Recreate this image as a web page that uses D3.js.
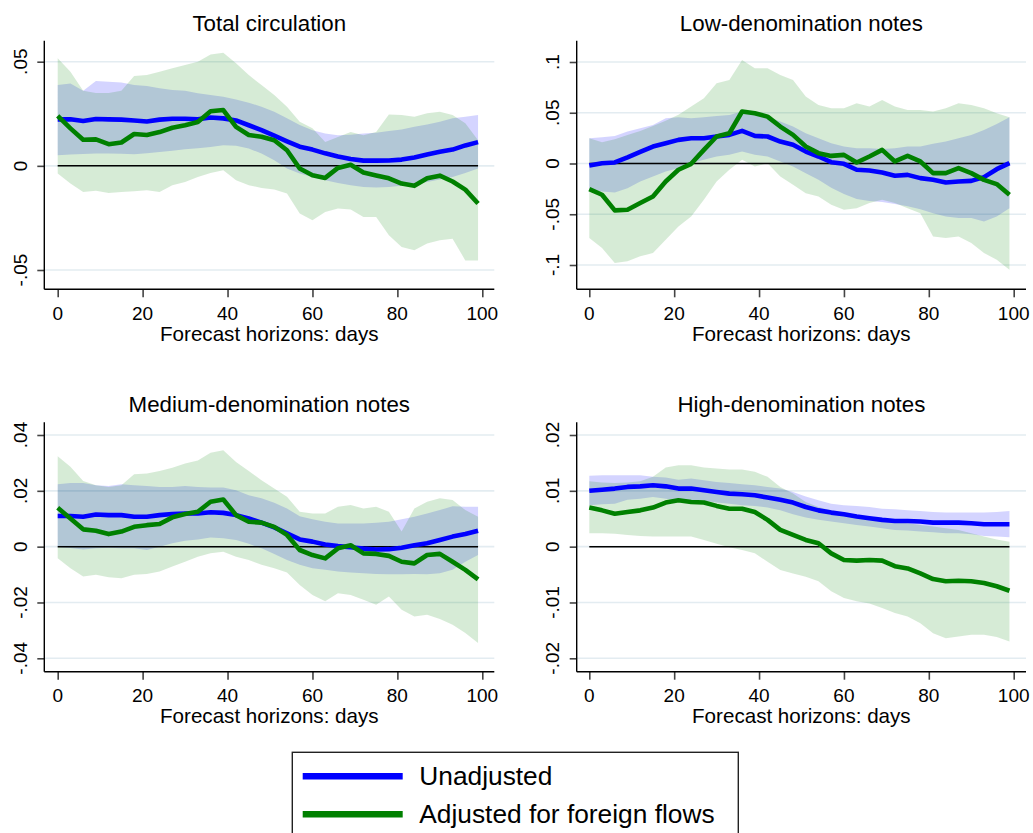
<!DOCTYPE html>
<html>
<head>
<meta charset="utf-8">
<script src="https://cdn.jsdelivr.net/npm/d3@7"></script>
<style>
  html, body { margin: 0; padding: 0; background: #fff; }
  svg { display: block; font-family: "Liberation Sans", Arial, sans-serif; }
</style>
</head>
<body>
<svg id="chart" width="1033" height="833"></svg>
<script>
// Forecast horizons (days)
const horizons = [0,3,6,9,12,15,18,21,24,27,30,33,36,39,42,45,48,51,54,57,60,63,66,69,72,75,78,81,84,87,90,93,96,99];

const xTicks = [0, 20, 40, 60, 80, 100];
const seriesNames = ["Unadjusted", "Adjusted for foreign flows"];
const panelTitles = ["Total circulation", "Low-denomination notes", "Medium-denomination notes", "High-denomination notes"];

// Total circulation
const totUnadj   = [0.0223,0.0224,0.0215,0.0225,0.0223,0.0222,0.0218,0.0213,0.0222,0.0226,0.0226,0.0224,0.0232,0.0228,0.0218,0.0195,0.0171,0.0145,0.0118,0.0092,0.0078,0.0060,0.0045,0.0033,0.0025,0.0025,0.0026,0.0030,0.0040,0.0055,0.0068,0.0078,0.0098,0.0114];
const totUnadjHi = [0.0388,0.0395,0.0360,0.0407,0.0404,0.0400,0.0388,0.0383,0.0372,0.0364,0.0360,0.0348,0.0340,0.0332,0.0319,0.0303,0.0284,0.0260,0.0228,0.0196,0.0171,0.0155,0.0147,0.0149,0.0155,0.0159,0.0167,0.0175,0.0188,0.0198,0.0212,0.0228,0.0236,0.0244];
const totUnadjLo = [0.0051,0.0055,0.0057,0.0059,0.0059,0.0058,0.0056,0.0060,0.0067,0.0073,0.0080,0.0085,0.0091,0.0099,0.0096,0.0083,0.0059,0.0027,-0.0013,-0.0037,-0.0053,-0.0069,-0.0082,-0.0093,-0.0101,-0.0104,-0.0102,-0.0096,-0.0088,-0.0077,-0.0066,-0.0053,-0.0034,-0.0013];
const totAdj     = [0.0240,0.0180,0.0125,0.0127,0.0104,0.0112,0.0153,0.0148,0.0162,0.0183,0.0195,0.0210,0.0262,0.0268,0.0187,0.0148,0.0140,0.0123,0.0075,-0.0013,-0.0045,-0.0058,-0.0010,0.0005,-0.0032,-0.0046,-0.0060,-0.0085,-0.0096,-0.0060,-0.0047,-0.0075,-0.0114,-0.0181];
const totAdjHi   = [0.0516,0.0452,0.0360,0.0350,0.0350,0.0360,0.0431,0.0436,0.0452,0.0468,0.0484,0.0500,0.0535,0.0543,0.0492,0.0436,0.0388,0.0340,0.0284,0.0212,0.0180,0.0115,0.0139,0.0163,0.0147,0.0163,0.0247,0.0244,0.0236,0.0252,0.0260,0.0244,0.0204,0.0123];
const totAdjLo   = [-0.0037,-0.0085,-0.0125,-0.0120,-0.0130,-0.0125,-0.0122,-0.0117,-0.0125,-0.0093,-0.0077,-0.0053,-0.0034,-0.0021,-0.0069,-0.0093,-0.0106,-0.0114,-0.0133,-0.0229,-0.0261,-0.0221,-0.0205,-0.0210,-0.0245,-0.0245,-0.0333,-0.0389,-0.0405,-0.0373,-0.0357,-0.0350,-0.0454,-0.0454];
const totTicks   = [-0.05, 0, 0.05];
const totLabels  = ["-.05", "0", ".05"];

// Low-denomination notes
const lowUnadj   = [-0.0020,0.0003,0.0010,0.0060,0.0115,0.0167,0.0200,0.0233,0.0249,0.0249,0.0266,0.0282,0.0321,0.0272,0.0266,0.0216,0.0184,0.0118,0.0069,0.0013,-0.0003,-0.0062,-0.0069,-0.0089,-0.0121,-0.0112,-0.0144,-0.0161,-0.0187,-0.0177,-0.0171,-0.0134,-0.0056,0.0003];
const lowUnadjHi = [0.0249,0.0259,0.0272,0.0315,0.0348,0.0380,0.0446,0.0456,0.0446,0.0456,0.0469,0.0479,0.0512,0.0479,0.0462,0.0413,0.0364,0.0298,0.0249,0.0200,0.0167,0.0151,0.0151,0.0144,0.0151,0.0167,0.0167,0.0194,0.0216,0.0249,0.0282,0.0331,0.0390,0.0456];
const lowUnadjLo = [-0.0276,-0.0276,-0.0285,-0.0243,-0.0177,-0.0128,-0.0079,-0.0046,0.0003,0.0036,0.0069,0.0085,0.0118,0.0085,0.0069,0.0020,-0.0030,-0.0095,-0.0161,-0.0240,-0.0300,-0.0350,-0.0370,-0.0380,-0.0400,-0.0420,-0.0450,-0.0489,-0.0522,-0.0538,-0.0538,-0.0571,-0.0522,-0.0440];
const lowAdj     = [-0.0253,-0.0308,-0.0462,-0.0456,-0.0390,-0.0325,-0.0177,-0.0062,-0.0003,0.0134,0.0266,0.0298,0.0512,0.0495,0.0462,0.0364,0.0282,0.0167,0.0102,0.0075,0.0085,0.0010,0.0069,0.0134,0.0020,0.0075,0.0020,-0.0095,-0.0095,-0.0046,-0.0095,-0.0161,-0.0203,-0.0308];
const lowAdjHi   = [0.0250,0.0210,0.0240,0.0280,0.0320,0.0370,0.0420,0.0480,0.0561,0.0643,0.0790,0.0823,0.1020,0.0938,0.0938,0.0872,0.0823,0.0659,0.0577,0.0544,0.0544,0.0594,0.0561,0.0626,0.0561,0.0528,0.0528,0.0512,0.0544,0.0594,0.0577,0.0544,0.0495,0.0456];
const lowAdjLo   = [-0.0735,-0.0833,-0.0981,-0.0964,-0.0915,-0.0882,-0.0751,-0.0620,-0.0522,-0.0358,-0.0177,-0.0062,0.0036,-0.0030,0.0003,-0.0128,-0.0210,-0.0292,-0.0325,-0.0407,-0.0456,-0.0440,-0.0390,-0.0358,-0.0390,-0.0440,-0.0489,-0.0718,-0.0735,-0.0718,-0.0784,-0.0882,-0.0948,-0.1046];
const lowTicks   = [-0.1, -0.05, 0, 0.05, 0.1];
const lowLabels  = ["-.1", "-.05", "0", ".05", ".1"];

// Medium-denomination notes
const medUnadj   = [0.0110,0.0110,0.0107,0.0115,0.0113,0.0113,0.0107,0.0107,0.0113,0.0117,0.0119,0.0119,0.0123,0.0121,0.0113,0.0101,0.0086,0.0069,0.0048,0.0026,0.0018,0.0008,0.0002,-0.0002,-0.0007,-0.0010,-0.0009,-0.0004,0.0005,0.0012,0.0024,0.0036,0.0045,0.0057];
const medUnadjHi = [0.0224,0.0228,0.0228,0.0220,0.0217,0.0224,0.0220,0.0217,0.0214,0.0214,0.0217,0.0214,0.0212,0.0212,0.0202,0.0184,0.0173,0.0157,0.0137,0.0109,0.0098,0.0089,0.0083,0.0083,0.0083,0.0086,0.0089,0.0098,0.0107,0.0119,0.0131,0.0145,0.0143,0.0143];
const medUnadjLo = [0.0000,-0.0005,-0.0010,-0.0006,-0.0004,-0.0006,-0.0006,-0.0012,0.0000,0.0012,0.0021,0.0026,0.0033,0.0030,0.0024,0.0010,-0.0006,-0.0026,-0.0048,-0.0065,-0.0077,-0.0083,-0.0089,-0.0093,-0.0095,-0.0098,-0.0099,-0.0099,-0.0098,-0.0099,-0.0095,-0.0083,-0.0054,-0.0030];
const medAdj     = [0.0139,0.0101,0.0062,0.0057,0.0045,0.0054,0.0071,0.0077,0.0081,0.0105,0.0117,0.0125,0.0161,0.0169,0.0113,0.0089,0.0086,0.0071,0.0042,-0.0012,-0.0030,-0.0042,-0.0006,0.0005,-0.0024,-0.0026,-0.0033,-0.0054,-0.0060,-0.0030,-0.0026,-0.0054,-0.0083,-0.0117];
const medAdjHi   = [0.0324,0.0286,0.0235,0.0220,0.0214,0.0220,0.0259,0.0262,0.0271,0.0283,0.0298,0.0309,0.0336,0.0345,0.0303,0.0271,0.0238,0.0208,0.0179,0.0125,0.0119,0.0119,0.0143,0.0149,0.0137,0.0143,0.0125,0.0054,0.0137,0.0161,0.0173,0.0167,0.0131,0.0107];
const medAdjLo   = [-0.0042,-0.0077,-0.0107,-0.0101,-0.0110,-0.0113,-0.0101,-0.0098,-0.0089,-0.0071,-0.0054,-0.0036,-0.0024,-0.0018,-0.0036,-0.0048,-0.0065,-0.0077,-0.0093,-0.0137,-0.0173,-0.0196,-0.0167,-0.0173,-0.0190,-0.0208,-0.0179,-0.0226,-0.0250,-0.0244,-0.0259,-0.0280,-0.0309,-0.0345];
const medTicks   = [-0.04, -0.02, 0, 0.02, 0.04];
const medLabels  = ["-.04", "-.02", "0", ".02", ".04"];

// High-denomination notes
const highUnadj   = [0.0100,0.0102,0.0104,0.0107,0.0108,0.0110,0.0108,0.0104,0.0104,0.0101,0.0098,0.0095,0.0094,0.0092,0.0088,0.0084,0.0079,0.0071,0.0065,0.0061,0.0058,0.0054,0.0051,0.0048,0.0046,0.0046,0.0045,0.0043,0.0043,0.0043,0.0042,0.0040,0.0040,0.0040];
const highUnadjHi = [0.0127,0.0128,0.0128,0.0128,0.0128,0.0125,0.0124,0.0120,0.0122,0.0119,0.0116,0.0114,0.0112,0.0110,0.0107,0.0104,0.0098,0.0090,0.0083,0.0077,0.0074,0.0073,0.0071,0.0068,0.0067,0.0065,0.0064,0.0062,0.0061,0.0061,0.0061,0.0061,0.0062,0.0064];
const highUnadjLo = [0.0074,0.0076,0.0077,0.0084,0.0086,0.0089,0.0086,0.0083,0.0083,0.0082,0.0079,0.0077,0.0074,0.0073,0.0070,0.0065,0.0058,0.0052,0.0048,0.0045,0.0042,0.0039,0.0036,0.0033,0.0030,0.0029,0.0027,0.0026,0.0024,0.0024,0.0022,0.0019,0.0018,0.0017];
const highAdj     = [0.0070,0.0065,0.0059,0.0062,0.0065,0.0070,0.0079,0.0083,0.0080,0.0079,0.0073,0.0068,0.0068,0.0062,0.0048,0.0030,0.0021,0.0012,0.0006,-0.0012,-0.0024,-0.0025,-0.0024,-0.0025,-0.0035,-0.0039,-0.0048,-0.0058,-0.0062,-0.0061,-0.0062,-0.0065,-0.0071,-0.0079];
const highAdjHi   = [0.0117,0.0115,0.0114,0.0115,0.0117,0.0125,0.0142,0.0146,0.0146,0.0142,0.0140,0.0138,0.0138,0.0134,0.0125,0.0107,0.0095,0.0080,0.0071,0.0065,0.0060,0.0054,0.0051,0.0048,0.0045,0.0042,0.0039,0.0036,0.0033,0.0030,0.0024,0.0018,0.0013,0.0009];
const highAdjLo   = [0.0024,0.0024,0.0023,0.0021,0.0019,0.0018,0.0018,0.0018,0.0018,0.0012,0.0005,-0.0001,-0.0006,-0.0012,-0.0027,-0.0042,-0.0048,-0.0054,-0.0062,-0.0080,-0.0092,-0.0098,-0.0102,-0.0110,-0.0119,-0.0125,-0.0137,-0.0155,-0.0164,-0.0161,-0.0158,-0.0158,-0.0162,-0.0170];
const highTicks   = [-0.02, -0.01, 0, 0.01, 0.02];
const highLabels  = ["-.02", "-.01", "0", ".01", ".02"];

// ---- styling ----
const COLORS = {
  unadj: "#0000ff",
  adj: "#008000",
  unadjBand: "rgba(0,0,255,0.17)",
  adjBand: "rgba(0,128,0,0.16)",
  grid: "#e3ecf1"
};

// Plot regions: left axis x, right edge, top, x-axis y; x pixel positions of day 0 and 100;
// y pixel positions of the lowest and highest tick.
const layouts = [
  { left: 44.3,  right: 494.3, top: 40.7,  bottom: 289.3, x0: 57.7,  x100: 482.3,  yLo: 270.0, yHi: 61.7 },
  { left: 576.7, right: 1026,  top: 40.7,  bottom: 289.3, x0: 589.3, x100: 1013.7, yLo: 265.0, yHi: 62.0 },
  { left: 44.3,  right: 494.3, top: 422.3, bottom: 671.7, x0: 57.7,  x100: 482.3,  yLo: 658.3, yHi: 435.0 },
  { left: 576.7, right: 1026,  top: 422.3, bottom: 671.7, x0: 589.3, x100: 1013.7, yLo: 658.3, yHi: 435.0 }
];

const panels = [
  { title: panelTitles[0], ticks: totTicks,  labels: totLabels,
    unadj: totUnadj, unadjHi: totUnadjHi, unadjLo: totUnadjLo, adj: totAdj, adjHi: totAdjHi, adjLo: totAdjLo },
  { title: panelTitles[1], ticks: lowTicks,  labels: lowLabels,
    unadj: lowUnadj, unadjHi: lowUnadjHi, unadjLo: lowUnadjLo, adj: lowAdj, adjHi: lowAdjHi, adjLo: lowAdjLo },
  { title: panelTitles[2], ticks: medTicks,  labels: medLabels,
    unadj: medUnadj, unadjHi: medUnadjHi, unadjLo: medUnadjLo, adj: medAdj, adjHi: medAdjHi, adjLo: medAdjLo },
  { title: panelTitles[3], ticks: highTicks, labels: highLabels,
    unadj: highUnadj, unadjHi: highUnadjHi, unadjLo: highUnadjLo, adj: highAdj, adjHi: highAdjHi, adjLo: highAdjLo }
];

const svg = d3.select("#chart");

panels.forEach((p, k) => {
  const L = layouts[k];
  const g = svg.append("g");

  const x = d3.scaleLinear().domain([0, 100]).range([L.x0, L.x100]);
  const y = d3.scaleLinear()
    .domain([p.ticks[0], p.ticks[p.ticks.length - 1]])
    .range([L.yLo, L.yHi]);

  // horizontal grid lines
  g.selectAll("line.grid").data(p.ticks).enter().append("line")
    .attr("x1", L.left).attr("x2", L.right)
    .attr("y1", d => y(d)).attr("y2", d => y(d))
    .attr("stroke", COLORS.grid).attr("stroke-width", 1.6);

  // confidence bands
  const band = (lo, hi) => d3.area()
    .x((d, i) => x(horizons[i]))
    .y0((d, i) => y(lo[i]))
    .y1((d, i) => y(hi[i]))(horizons);

  g.append("path").attr("d", band(p.unadjLo, p.unadjHi)).attr("fill", COLORS.unadjBand);
  g.append("path").attr("d", band(p.adjLo, p.adjHi)).attr("fill", COLORS.adjBand);

  // zero reference line
  g.append("line")
    .attr("x1", x(horizons[0])).attr("x2", x(horizons[horizons.length - 1]))
    .attr("y1", y(0)).attr("y2", y(0))
    .attr("stroke", "#000").attr("stroke-width", 1.5);

  // response lines
  const line = vals => d3.line()
    .x((d, i) => x(horizons[i]))
    .y((d, i) => y(vals[i]))(horizons);

  g.append("path").attr("d", line(p.unadj))
    .attr("fill", "none").attr("stroke", COLORS.unadj)
    .attr("stroke-width", 4.6).attr("stroke-linejoin", "round");
  g.append("path").attr("d", line(p.adj))
    .attr("fill", "none").attr("stroke", COLORS.adj)
    .attr("stroke-width", 4.6).attr("stroke-linejoin", "round");

  // y axis
  const yAxis = d3.axisLeft(y)
    .tickValues(p.ticks)
    .tickSize(7)
    .tickSizeOuter(0)
    .tickFormat("");
  const ya = g.append("g").attr("transform", `translate(${L.left},0)`).call(yAxis);
  ya.select(".domain").remove();
  ya.selectAll(".tick line").attr("stroke", "#444").attr("stroke-width", 1.6);
  g.append("line")
    .attr("x1", L.left).attr("x2", L.left).attr("y1", L.top).attr("y2", L.bottom)
    .attr("stroke", "#000").attr("stroke-width", 1.4);

  g.selectAll("text.ylab").data(p.ticks).enter().append("text")
    .attr("transform", (d) => `translate(${L.left - 17.3},${y(d)}) rotate(-90)`)
    .attr("text-anchor", "middle")
    .attr("font-size", 19)
    .attr("fill", "#000")
    .text((d, i) => p.labels[i]);

  // x axis
  const xAxis = d3.axisBottom(x)
    .tickValues(xTicks)
    .tickSize(8)
    .tickSizeOuter(0)
    .tickFormat("");
  const xa = g.append("g").attr("transform", `translate(0,${L.bottom})`).call(xAxis);
  xa.select(".domain").remove();
  xa.selectAll(".tick line").attr("stroke", "#444").attr("stroke-width", 1.6);
  g.append("line")
    .attr("x1", L.left).attr("x2", L.right).attr("y1", L.bottom).attr("y2", L.bottom)
    .attr("stroke", "#000").attr("stroke-width", 1.4);

  g.selectAll("text.xlab").data(xTicks).enter().append("text")
    .attr("x", d => x(d)).attr("y", L.bottom + 30.2)
    .attr("text-anchor", "middle")
    .attr("font-size", 19)
    .attr("fill", "#000")
    .text(d => d);

  g.append("text")
    .attr("x", (L.left + L.right) / 2).attr("y", L.bottom + 51.2)
    .attr("text-anchor", "middle")
    .attr("font-size", 20.6)
    .attr("fill", "#000")
    .text("Forecast horizons: days");

  // panel title
  g.append("text")
    .attr("x", (L.left + L.right) / 2).attr("y", L.top - 10)
    .attr("text-anchor", "middle")
    .attr("font-size", 22.3)
    .attr("fill", "#000")
    .text(p.title);
});

// legend
const legend = svg.append("g");
legend.append("rect")
  .attr("x", 292.3).attr("y", 752.3).attr("width", 446).attr("height", 120)
  .attr("fill", "#fff").attr("stroke", "#222").attr("stroke-width", 1.4);

const legendColors = [COLORS.unadj, COLORS.adj];
seriesNames.forEach((name, i) => {
  const cy = 776.3 + i * 38;
  legend.append("line")
    .attr("x1", 302.7).attr("x2", 402.7).attr("y1", cy).attr("y2", cy)
    .attr("stroke", legendColors[i]).attr("stroke-width", 6.4);
  legend.append("text")
    .attr("x", 419.3).attr("y", cy + 9)
    .attr("font-size", 26.3)
    .attr("fill", "#000")
    .text(name);
});
</script>
</body>
</html>
